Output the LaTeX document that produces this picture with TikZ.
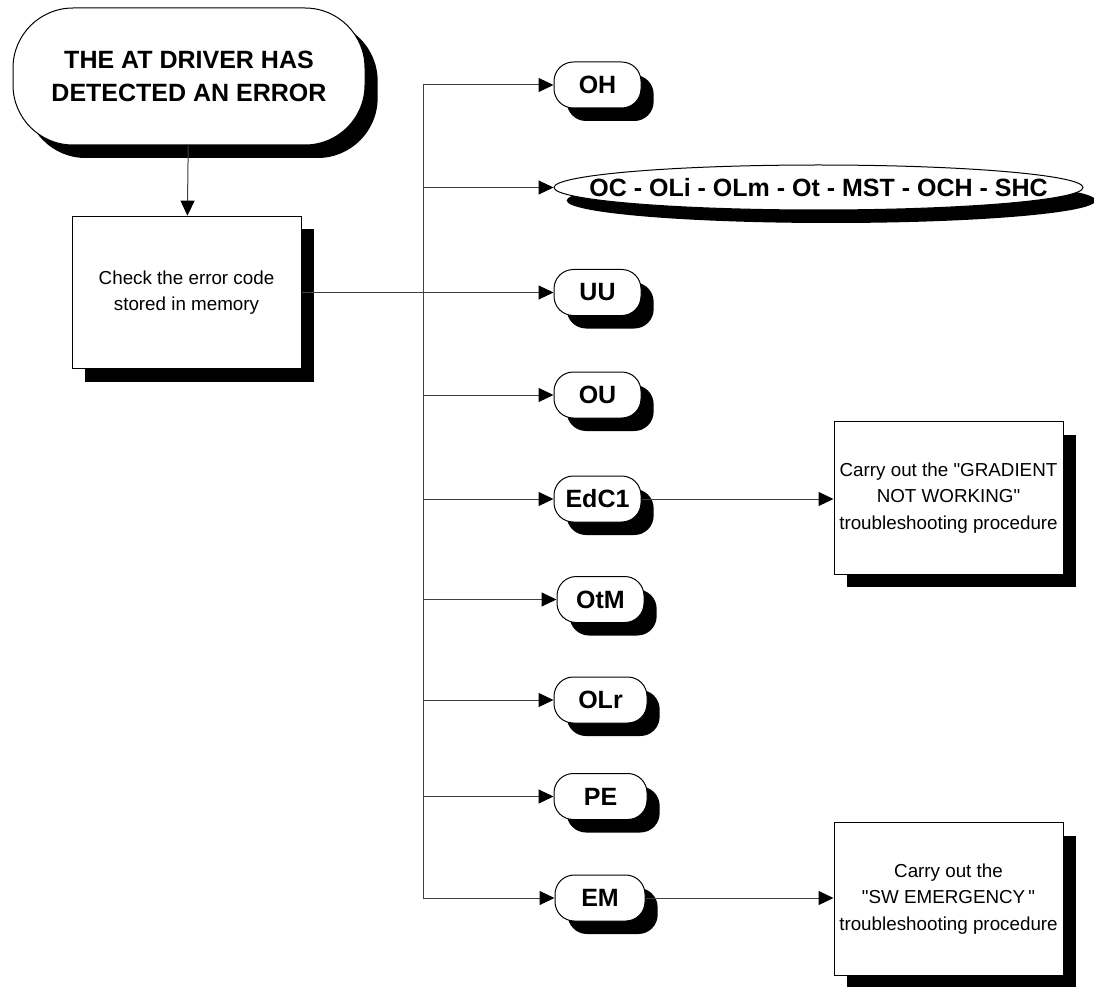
\documentclass[tikz,border=0pt]{standalone}
\usepackage{fontspec}
\setmainfont{Liberation Sans}
\usetikzlibrary{arrows.meta,shapes.geometric,shadows}

\begin{document}
\begin{tikzpicture}[x=0.75pt,y=-0.75pt,
  shadowed/.style={drop shadow={shadow xshift=9.5pt, shadow yshift=-9.75pt, fill=black, opacity=1}},
  conn/.style={draw=black!75, line width=0.75pt},
  arr/.style={conn, -{Triangle[length=11.25pt,width=10.5pt,color=black]}},
  bigtext/.style={font=\fontsize{18.75pt}{24.75pt}\selectfont\bfseries},
  smalltext/.style={font=\fontsize{14.1pt}{19pt}\selectfont},
  terminal/.style={shadowed, draw, line width=0.75pt, fill=white, rounded corners=45pt,
    minimum width=264pt, minimum height=102.75pt, inner sep=0pt, align=center, bigtext},
  stepbox/.style={shadowed, draw, line width=0.75pt, fill=white, rectangle,
    minimum width=171.75pt, minimum height=114.5pt, inner sep=0pt, align=center, smalltext},
  code/.style={shadowed, draw, line width=0.75pt, fill=white, rounded corners=14.5pt,
    minimum width=65.25pt, minimum height=34.5pt, inner sep=0pt, bigtext},
  codeoval/.style={shadowed, draw, line width=0.75pt, fill=white, ellipse,
    minimum width=396.75pt, minimum height=33.75pt, inner sep=0pt, bigtext}
]
\useasboundingbox (0,0) rectangle (1094,987);
\fill[white] (0,0) rectangle (1094,987);

% start of the procedure
\node[terminal] (start) at (189,76.5) {THE AT DRIVER HAS\\DETECTED AN ERROR};
\node[stepbox] (check) at (186.5,292.5) {Check the error code\\stored in memory};

% error codes
\node[code] (OH) at (597.5,85) {OH};
\node[codeoval] (OC) at (818.5,187.5) {\makebox[0pt]{OC - OLi - OLm - Ot - MST - OCH - SHC}};
\node[code] (UU) at (597.5,292.5) {UU};
\node[code] (OU) at (597.5,395) {OU};
\node[code] (EdC) at (597.5,499) {EdC1};
\node[code] (OtM) at (600.5,599.5) {OtM};
\node[code, minimum width=69.75pt] (OLr) at (600.5,700) {OLr};
\node[code, minimum width=69.75pt] (PE) at (600.5,796.5) {PE};
\node[code, minimum width=67.5pt] (EM) at (600,898) {EM};

% follow-up procedures
\node[stepbox, font=\fontsize{14.1pt}{20pt}\selectfont] (grad) at (948.5,498)
  {Carry out the \textquotedbl GRADIENT\\NOT WORKING\textquotedbl\\troubleshooting procedure};
\node[stepbox, font=\fontsize{14.1pt}{20pt}\selectfont] (sw) at (948.5,899)
  {Carry out the\\\textquotedbl SW EMERGENCY\,\textquotedbl\\troubleshooting procedure};

% connectors
\coordinate (bus) at (423,0);
\draw[arr] (start) -- (check);
\draw[arr] (check.east) -- (UU.west);
\draw[conn] (bus |- OH) -- (bus |- EM);
\draw[arr] (bus |- OH) -- (OH.west);
\draw[arr] (bus |- OC) -- (OC.west);
\draw[arr] (bus |- OU) -- (OU.west);
\draw[arr] (bus |- EdC) -- (EdC.west);
\draw[arr] (bus |- OtM) -- (OtM.west);
\draw[arr] (bus |- OLr) -- (OLr.west);
\draw[arr] (bus |- PE) -- (PE.west);
\draw[arr] (bus |- EM) -- (EM.west);
\draw[arr] (EdC.east) -- (EdC.east -| grad.west);
\draw[arr] (EM.east) -- (EM.east -| sw.west);
\end{tikzpicture}
\end{document}
